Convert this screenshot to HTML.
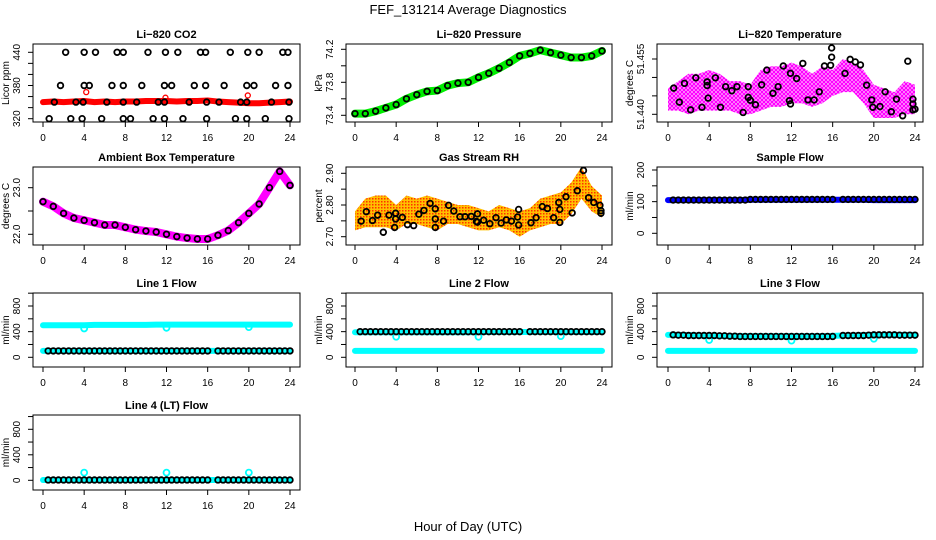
<!DOCTYPE html>
<html><head><meta charset="utf-8"><style>
body{margin:0;background:#fff}
svg{display:block;font-family:"Liberation Sans",sans-serif}
</style></head><body>
<svg id="chart" width="936" height="540" viewBox="0 0 936 540">
<defs>
<pattern id="magPat" width="4" height="4" patternUnits="userSpaceOnUse"><circle cx="2" cy="2" r="1.5" fill="none" stroke="#ff00ff" stroke-width="1.4"/></pattern>
<pattern id="rhPat" width="3" height="3" patternUnits="userSpaceOnUse"><rect width="3" height="3" fill="#ffc000"/><rect width="1.5" height="1.5" fill="#ff3000"/></pattern>
</defs>
<text x="468" y="14" font-size="13" text-anchor="middle">FEF_131214  Average Diagnostics</text>
<text x="468" y="531" font-size="13" text-anchor="middle">Hour of Day (UTC)</text>
</svg>
<script>
const hours=[0,1,2,3,4,5,6,7,8,9,10,11,12,13,14,15,16,17,18,19,20,21,22,23,24];
const halfHours=[0,0.5,1,1.5,2,2.5,3,3.5,4,4.5,5,5.5,6,6.5,7,7.5,8,8.5,9,9.5,10,10.5,11,11.5,12,12.5,13,13.5,14,14.5,15,15.5,16,16.5,17,17.5,18,18.5,19,19.5,20,20.5,21,21.5,22,22.5,23,23.5,24];
const co2Band=[350,351,350,351,352,350,351,350,351,351,352,352,352,351,352,352,353,351,350,349,348,348,349,350,351];
const co2BlackX=[2.2,4.0,5.1,7.2,7.8,10.2,11.9,13.1,15.3,15.8,18.2,19.9,21.0,23.3,23.8,1.7,4.0,4.5,6.7,7.8,9.6,11.8,12.5,14.7,15.8,17.6,19.8,20.5,22.6,23.8,1.1,3.2,3.9,6.2,7.8,9.1,11.2,11.8,14.2,15.9,17.1,19.2,19.8,22.2,23.9,0.6,2.7,3.8,5.7,7.8,8.5,10.7,11.8,13.6,15.9,18.7,19.8,21.6,23.9];
const co2BlackY=[440,440,440,440,440,440,440,440,440,440,440,440,440,440,440,380,380,380,380,380,380,380,380,380,380,380,380,380,380,380,350,350,350,350,350,350,350,350,350,350,350,350,350,350,350,320,320,320,320,320,320,320,320,320,320,320,320,320,320];
const co2RedX=[4.2,11.9,19.9];
const co2RedY=[368,358,362];
const pressure=[73.42,73.42,73.45,73.49,73.53,73.6,73.65,73.69,73.7,73.76,73.79,73.8,73.86,73.91,73.97,74.04,74.12,74.15,74.19,74.16,74.13,74.1,74.1,74.12,74.18];
const tempUpper=[51.447,51.449,51.451,51.451,51.452,51.451,51.449,51.449,51.448,51.452,51.453,51.453,51.454,51.453,51.451,51.453,51.452,51.455,51.454,51.452,51.448,51.447,51.446,51.449,51.448];
const tempLower=[51.441,51.441,51.440,51.441,51.441,51.441,51.441,51.440,51.440,51.441,51.442,51.442,51.443,51.443,51.442,51.443,51.445,51.446,51.446,51.443,51.439,51.439,51.439,51.440,51.440];
const tempBlackX=[0.55,1.1,1.6,2.2,2.7,3.3,3.8,3.8,3.9,4.6,5.1,5.6,6.2,6.7,7.3,7.8,7.8,8.0,8.5,9.1,9.6,10.2,10.7,11.2,11.8,11.9,11.9,12.5,13.1,13.6,14.2,14.7,15.2,15.8,15.9,15.9,17.2,17.7,18.2,18.7,19.3,19.8,19.9,20.6,21.1,21.7,22.2,22.8,23.3,23.8,23.8,23.8,24];
const tempBlackY=[51.4471,51.4433,51.4484,51.4412,51.4499,51.4419,51.4488,51.4478,51.4444,51.4499,51.4419,51.4475,51.4464,51.4475,51.4405,51.4475,51.4446,51.4438,51.4426,51.4480,51.4520,51.4457,51.4475,51.4531,51.4437,51.4511,51.4428,51.4497,51.4538,51.4439,51.4439,51.4461,51.4531,51.4533,51.4555,51.4580,51.4511,51.4549,51.4542,51.4534,51.4479,51.4439,51.4419,51.4421,51.4461,51.4407,51.4441,51.4396,51.4544,51.4441,51.4428,51.4412,51.4414];
const ambient=[22.7,22.6,22.45,22.35,22.3,22.25,22.2,22.2,22.15,22.1,22.07,22.05,22.0,21.95,21.92,21.9,21.9,21.98,22.08,22.25,22.45,22.65,23.0,23.35,23.05];
const rhUpper=[2.78,2.82,2.83,2.83,2.80,2.83,2.82,2.83,2.82,2.81,2.80,2.80,2.79,2.78,2.80,2.79,2.78,2.79,2.82,2.83,2.84,2.87,2.92,2.86,2.83];
const rhLower=[2.72,2.73,2.73,2.73,2.72,2.74,2.74,2.73,2.72,2.74,2.74,2.73,2.72,2.72,2.73,2.72,2.70,2.72,2.73,2.74,2.74,2.77,2.82,2.78,2.76];
const rhBlackX=[0.6,1.1,1.7,2.2,2.75,3.3,3.85,3.95,3.95,4.6,5.1,5.7,6.2,6.7,7.3,7.8,7.8,7.8,8.6,9.1,9.6,10.2,10.7,11.3,11.8,11.9,11.9,12.5,13.1,13.7,14.2,14.7,15.2,15.8,15.9,15.9,17.1,17.6,18.2,18.7,19.3,19.8,19.9,19.9,20.5,21.1,21.6,22.2,22.7,23.2,23.8,23.9,23.9];
const rhBlackY=[2.749,2.779,2.751,2.768,2.714,2.768,2.729,2.756,2.774,2.761,2.738,2.735,2.771,2.783,2.805,2.788,2.756,2.729,2.749,2.799,2.781,2.763,2.763,2.764,2.748,2.772,2.746,2.752,2.741,2.760,2.743,2.753,2.749,2.762,2.786,2.737,2.744,2.760,2.795,2.789,2.760,2.808,2.786,2.745,2.826,2.775,2.845,2.909,2.823,2.808,2.799,2.782,2.774];
const sampleBand=[105,105,105,105,105,105,105,105,106,106,106,106,106,106,106,106,106,106,106,106,105,105,105,105,105];
const line1Upper=[500,500,500,500,500,505,505,505,505,505,505,510,510,510,510,510,510,510,510,510,510,510,510,510,510];
const line1Lower=[100,100,100,100,100,100,100,100,100,100,100,100,100,100,100,100,100,100,100,100,100,100,100,100,100];
const line2Upper=[390,390,390,390,390,390,390,390,390,390,390,390,395,395,395,395,395,395,395,395,395,395,395,395,395];
const line2Lower=[100,100,100,100,100,100,100,100,100,100,100,100,100,100,100,100,100,100,100,100,100,100,100,100,100];
const line3Upper=[350,350,345,340,335,335,330,330,330,330,330,330,330,330,330,330,335,340,340,345,350,350,350,350,350];
const line3Lower=[100,100,100,100,100,100,100,100,100,100,100,100,100,100,100,100,100,100,100,100,100,100,100,100,100];
const line4Band=[5,5,5,5,5,5,5,5,5,5,5,5,5,5,5,5,5,5,5,5,5,5,5,5,5];
const sampleBlack=[null,105,105,105,105,105,105,105,105,105,105,105,105,105,105,105,107,107,107,107,107,107,107,107,107,107,107,107,107,107,107,107,107,null,107,107,107,107,107,107,107,107,107,107,107,107,107,107,107];
const line1Black=[null,100,100,100,100,100,100,100,100,100,100,100,100,100,100,100,100,100,100,100,100,100,100,100,100,100,100,100,100,100,100,100,100,null,100,100,100,100,100,100,100,100,100,100,100,100,100,100,100];
const line2Black=[null,400,400,400,400,400,400,400,400,400,400,400,400,400,400,400,400,400,400,400,400,400,400,400,400,400,400,400,400,400,400,400,400,null,400,400,400,400,400,400,400,400,400,400,400,400,400,400,400];
const line3Black=[null,350,345,345,340,340,340,340,340,340,335,335,330,330,325,325,325,325,325,325,325,325,325,325,325,325,325,325,325,325,325,325,325,null,340,340,340,340,340,345,350,350,350,350,350,345,345,345,345];
const line4Black=[null,5,5,5,5,5,5,5,5,5,5,5,5,5,5,5,5,5,5,5,5,5,5,5,5,5,5,5,5,5,5,5,5,null,5,5,5,5,5,5,5,5,5,5,5,5,5,5,5];
const outlierHours=[4,12,20];
const line1Outliers=[450,460,470];
const line2Outliers=[320,320,330];
const line3Outliers=[270,260,290];
const line4Outliers=[120,120,120];

const svg=document.getElementById('chart');
const NS='http://www.w3.org/2000/svg';
const colLeft=[33,346,657],colRight=[300,612,923],colZero=[43,355,668];
const rowTop=[44,167,293,415],rowBot=[122,245,367,490];
function el(tag,attrs,parent,text){const e=document.createElementNS(NS,tag);for(const k in attrs)e.setAttribute(k,attrs[k]);if(text!==undefined)e.textContent=text;(parent||svg).appendChild(e);return e;}

function panel(name,col,row,title,ylab,ref,ticks,labels,fmt){
  const g=el('g',{});
  
  
  const L=colLeft[col],R=colRight[col],T=rowTop[row],B=rowBot[row];
  const X=h=>colZero[col]+h*247/24;
  const Y=v=>ref[1]+(v-ref[0])*(ref[3]-ref[1])/(ref[2]-ref[0]);
  const t=el('text',{x:(L+R)/2,y:T-6,'font-size':11,'font-weight':'bold','text-anchor':'middle'},g,title);
  
  
  const plot=el('g',{},g);
  
  
  const box=el('rect',{x:L,y:T,width:R-L,height:B-T,fill:'none',stroke:'#000','stroke-width':1},g);
  
  
  const xa=el('g',{},g);
  
  
  el('line',{x1:X(0),x2:X(24),y1:B,y2:B,stroke:'#000'},xa);
  for(let h=0;h<=24;h+=4){
    el('line',{x1:X(h),x2:X(h),y1:B,y2:B+5,stroke:'#000'},xa);
    const tl=el('text',{x:X(h),y:B+19,'font-size':10,'text-anchor':'middle'},xa,String(h));
    
    
  }
  const ya=el('g',{},g);
  
  
  el('line',{x1:L,x2:L,y1:Y(ticks[0]),y2:Y(ticks[ticks.length-1]),stroke:'#000'},ya);
  ticks.forEach(v=>el('line',{x1:L-5,x2:L,y1:Y(v),y2:Y(v),stroke:'#000'},ya));
  labels.forEach(v=>{
    const yl=el('text',{x:0,y:0,'font-size':10,'text-anchor':'middle',transform:`translate(${L-13},${Y(v)}) rotate(-90)`},ya,fmt(v));
    
    
  });
  const yt=el('text',{x:0,y:0,'font-size':10,'text-anchor':'middle',transform:`translate(${L-24},${(T+B)/2}) rotate(-90)`},g,ylab);
  
  
  return {X,Y,g:plot};
}
function band(p,xs,ys,color,w){
  const pts=xs.map((x,i)=>p.X(x)+','+p.Y(ys[i])).join(' ');
  const b=el('polyline',{points:pts,fill:'none',stroke:color,'stroke-width':w,'stroke-linecap':'round','stroke-linejoin':'round'},p.g);
  
  
}
function envelope(p,xs,up,lo,fill){
  const pts=xs.map((x,i)=>p.X(x)+','+p.Y(up[i])).concat(xs.slice().reverse().map((x,j)=>p.X(x)+','+p.Y(lo[xs.length-1-j])));
  const e=el('polygon',{points:pts.join(' '),fill:fill,stroke:'none'},p.g);
  
  
}
function dots(p,xs,ys,color,r,sw){
  xs.forEach((x,i)=>{
    if(ys[i]===null)return;
    const c=el('circle',{cx:p.X(x),cy:p.Y(ys[i]),r:r,fill:'none',stroke:color,'stroke-width':sw},p.g);
    
    
  });
}
const f0=v=>String(v),f1=v=>v.toFixed(1),f2=v=>v.toFixed(2),f3=v=>v.toFixed(3);

let p=panel('li820-co2',0,0,'Li\u2212820 CO2','Licor ppm',[440,52.3,320,118.7],[320,340,360,380,400,420,440],[320,380,440],f0);
band(p,hours,co2Band,'#ff0000',6);
dots(p,co2RedX,co2RedY,'#ff0000',2.5,1.3);
dots(p,co2BlackX,co2BlackY,'#000',2.8,1.8);
p=panel('li820-pressure',1,0,'Li\u2212820 Pressure','kPa',[74.2,49.3,73.4,115.3],[73.4,73.6,73.8,74.0,74.2],[73.4,73.8,74.2],f1);
band(p,hours,pressure,'#00ee00',8);
dots(p,hours,pressure,'#000',2.8,1.8);
p=panel('li820-temperature',2,0,'Li\u2212820 Temperature','degrees C',[51.455,59,51.440,114.3],[51.440,51.445,51.450,51.455],[51.440,51.455],f3);
envelope(p,hours,tempUpper,tempLower,'url(#magPat)');
dots(p,tempBlackX,tempBlackY,'#000',2.8,1.8);
p=panel('ambient-box-temperature',0,1,'Ambient Box Temperature','degrees C',[23.0,187.7,22.0,234.3],[22.0,22.5,23.0],[22.0,23.0],f1);
band(p,hours,ambient,'#ff00ff',8);
dots(p,hours,ambient,'#000',2.8,1.8);
p=panel('gas-stream-rh',1,1,'Gas Stream RH','percent',[2.90,173.3,2.70,236.7],[2.70,2.75,2.80,2.85,2.90],[2.70,2.80,2.90],f2);
envelope(p,hours,rhUpper,rhLower,'url(#rhPat)');
dots(p,rhBlackX,rhBlackY,'#000',2.8,1.8);
p=panel('sample-flow',2,1,'Sample Flow','ml/min',[200,170,0,233.3],[0,50,100,150,200],[0,100,200],f0);
band(p,hours,sampleBand,'#0000ff',6);
dots(p,halfHours,sampleBlack,'#000',2.8,1.8);
p=panel('line1-flow',0,2,'Line 1 Flow','ml/min',[800,306,0,357.3],[0,200,400,600,800,1000],[0,400,800],f0);
band(p,hours,line1Upper,'#00ffff',6);
band(p,hours,line1Lower,'#00ffff',6);
dots(p,outlierHours,line1Outliers,'#00ffff',3,1.8);
dots(p,halfHours,line1Black,'#000',2.8,1.8);
p=panel('line2-flow',1,2,'Line 2 Flow','ml/min',[800,306,0,357.3],[0,200,400,600,800,1000],[0,400,800],f0);
band(p,hours,line2Upper,'#00ffff',6);
band(p,hours,line2Lower,'#00ffff',6);
dots(p,outlierHours,line2Outliers,'#00ffff',3,1.8);
dots(p,halfHours,line2Black,'#000',2.8,1.8);
p=panel('line3-flow',2,2,'Line 3 Flow','ml/min',[800,306,0,357.3],[0,200,400,600,800,1000],[0,400,800],f0);
band(p,hours,line3Upper,'#00ffff',6);
band(p,hours,line3Lower,'#00ffff',6);
dots(p,outlierHours,line3Outliers,'#00ffff',3,1.8);
dots(p,halfHours,line3Black,'#000',2.8,1.8);
p=panel('line4-lt-flow',0,3,'Line 4 (LT) Flow','ml/min',[800,429.3,0,480.3],[0,200,400,600,800,1000],[0,400,800],f0);
band(p,hours,line4Band,'#00ffff',6);
dots(p,outlierHours,line4Outliers,'#00ffff',3,1.8);
dots(p,halfHours,line4Black,'#000',2.8,1.8);
</script>
</body></html>
